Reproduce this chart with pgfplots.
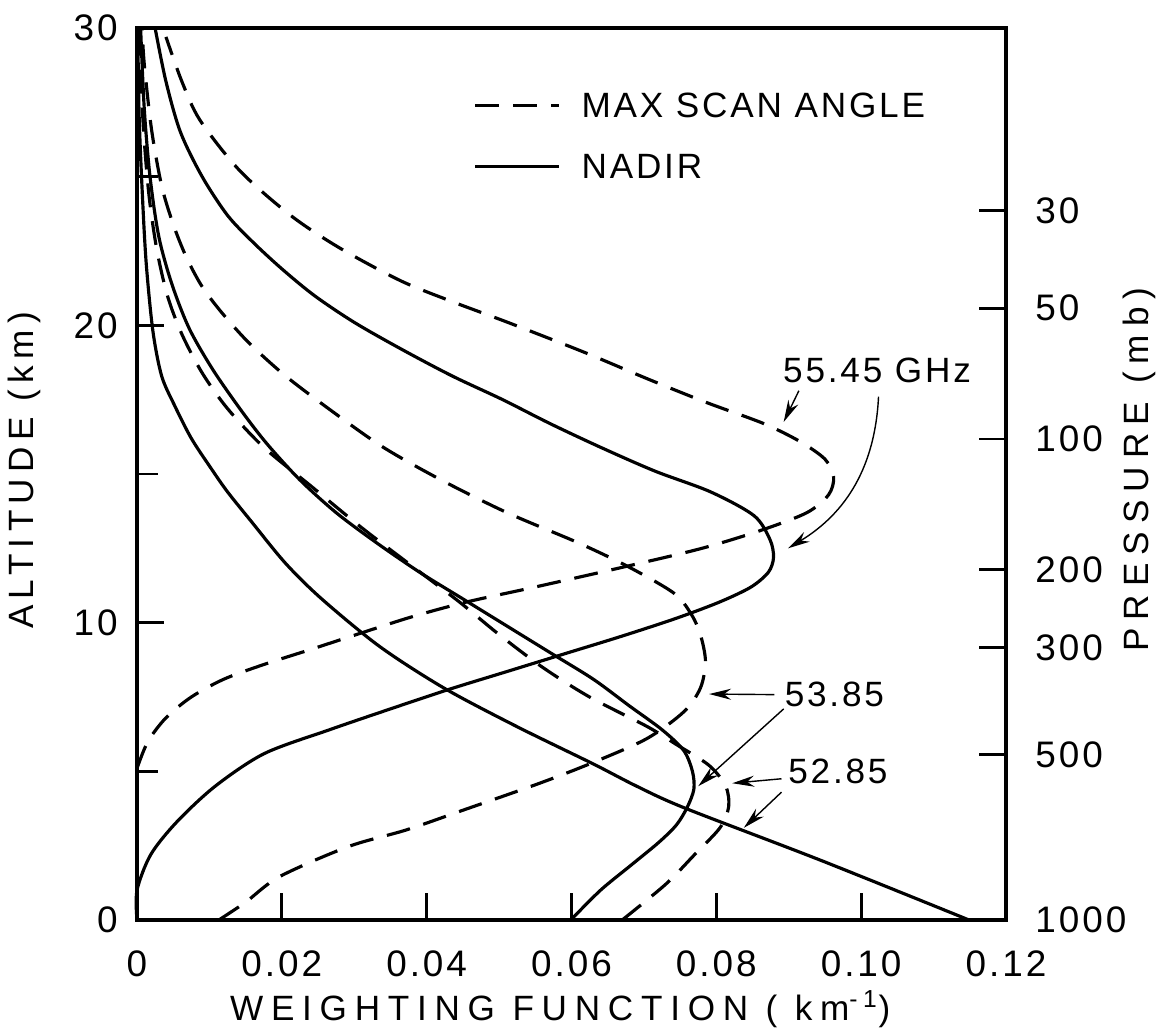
\documentclass[border=0pt]{standalone}
\usepackage{fontspec}
\setmainfont{Liberation Sans}[LetterSpace=8]
\usepackage{pgfplots}
\pgfplotsset{compat=1.18}
\usetikzlibrary{arrows.meta}

% weighting functions: x = km^-1, y = altitude (km)
\pgfplotstableread{
x y
0 0
0 1.0
0.0019 2.2
0.0055 3.3
0.0108 4.5
0.0176 5.6
0.0266 6.4
0.0350 7.1
0.0430 7.75
0.0510 8.35
0.0590 8.95
0.0670 9.55
0.0745 10.15
0.0805 10.7
0.0848 11.2
0.0872 11.7
0.0879 12.2
0.0874 12.8
0.0852 13.6
0.0792 14.4
0.0715 15.1
0.0640 15.9
0.0570 16.7
0.0505 17.5
0.0435 18.3
0.0365 19.2
0.0300 20.1
0.0245 21.0
0.0200 21.9
0.0160 22.8
0.0125 23.7
0.0090 25.0
0.0060 26.5
0.0040 28.2
0.0025 30
}\nadirA

\pgfplotstableread{
x y
0 5.1
0.0015 6.0
0.0040 6.8
0.0075 7.5
0.0120 8.1
0.0176 8.6
0.0240 9.1
0.0303 9.6
0.0380 10.2
0.0456 10.7
0.0550 11.2
0.0677 11.9
0.0780 12.5
0.0861 13.1
0.0925 13.7
0.0955 14.3
0.0962 14.9
0.0950 15.5
0.0915 16.1
0.0865 16.7
0.0787 17.4
0.0705 18.2
0.0617 19.1
0.0512 20.1
0.0435 20.8
0.0364 21.5
0.0280 22.6
0.0212 23.7
0.0142 25.2
0.0087 26.9
0.0062 28.2
0.0040 29.7
}\maxA

\pgfplotstableread{
x y
0.0599 0
0.0640 1.0
0.0680 1.8
0.0720 2.6
0.0745 3.2
0.0760 3.8
0.0769 4.4
0.0767 5.0
0.0755 5.7
0.0725 6.4
0.0680 7.2
0.0630 8.1
0.0570 9.0
0.0510 9.9
0.0450 10.8
0.0390 11.7
0.0330 12.7
0.0275 13.7
0.0225 14.8
0.0180 16.0
0.0145 17.1
0.0105 18.5
0.0072 19.9
0.0048 21.4
0.0030 23.0
0.0018 25.0
0.0010 27.3
0.0005 30
}\nadirB

\pgfplotstableread{
x y
0.0113 0
0.0150 0.6
0.0197 1.46
0.0292 2.47
0.0372 3.03
0.0451 3.7
0.0556 4.6
0.0630 5.3
0.0704 6.1
0.0755 7.0
0.0778 7.8
0.0785 8.7
0.0778 9.6
0.0765 10.3
0.0741 11.0
0.0677 11.9
0.0608 12.7
0.0511 13.7
0.0420 14.8
0.0340 15.9
0.0270 17.1
0.0205 18.3
0.0155 19.4
0.0118 20.4
0.0090 21.3
0.0068 22.3
0.0050 23.4
0.0034 24.7
0.0020 26.6
0.0010 28.8
0.0007 30
}\maxB

\pgfplotstableread{
x y
0.1149 0
0.0945 2.0
0.0757 3.76
0.0690 4.5
0.0630 5.25
0.0525 6.5
0.0424 7.8
0.0335 9.2
0.0255 10.8
0.0205 12.0
0.0158 13.4
0.0125 14.4
0.0102 15.2
0.0075 16.2
0.0052 17.3
0.0034 18.3
0.0022 19.8
0.0013 22.0
0.0008 24.1
0.0003 27
0.0001 30
}\nadirC

\pgfplotstableread{
x y
0.0670 0
0.0730 1.2
0.0770 2.2
0.0805 3.1
0.0817 3.8
0.0813 4.5
0.0790 5.2
0.0745 5.9
0.0705 6.5
0.0625 7.5
0.0560 8.5
0.0500 9.6
0.0445 10.7
0.0380 11.9
0.0310 13.2
0.0240 14.6
0.0175 15.9
0.0125 17.2
0.0090 18.4
0.0062 19.7
0.0042 21.0
0.0027 22.6
0.0016 24.5
0.0008 27.0
0.0004 30
}\maxC

\begin{document}
\begin{tikzpicture}
\useasboundingbox (-13.7mm,-11.2mm) rectangle (102.5mm,92mm);
\begin{axis}[
  at={(0,0)}, anchor=south west,
  scale only axis, width=86.9mm, height=89.2mm,
  xmin=0, xmax=0.12, ymin=0, ymax=30,
  axis line style={line width=0.9pt},
  tick align=inside, xtick pos=bottom, ytick pos=left,
  major tick length=2.7mm, minor tick length=2.1mm,
  tick style={line width=0.8pt, black},
  xtick={0,0.02,0.04,0.06,0.08,0.10,0.12},
  xticklabels={0,0.02,0.04,0.06,0.08,0.10,0.12},
  ytick={0,10,20,30}, yticklabels={0,10,20,30},
  minor ytick={5,15,25},
  tick label style={font=\fontsize{10.5}{12}\selectfont},
  xticklabel style={yshift=-1.8mm},
  yticklabel style={xshift=-0.7mm},
  scaled x ticks=false,
  clip=false,
]
\tikzset{nad/.style={line width=0.9pt, black, no markers, smooth, tension=0.5},
         msa/.style={nad, dash pattern=on 2.4mm off 1.4mm}}
\addplot[nad] table {\nadirA};
\addplot[msa] table {\maxA};
\addplot[nad] table {\nadirB};
\addplot[msa] table {\maxB};
\addplot[nad] table {\nadirC};
\addplot[msa] table {\maxC};

% legend
\draw[line width=0.9pt, dash pattern=on 2.4mm off 1.4mm] (axis cs:0.0467,27.4) -- (axis cs:0.0583,27.4);
\node[anchor=west, font=\fontsize{10}{12}\selectfont, inner sep=0] at (axis cs:0.0613,27.4) {MAX SCAN ANGLE};
\draw[line width=0.9pt] (axis cs:0.0467,25.35) -- (axis cs:0.0583,25.35);
\node[anchor=west, font=\fontsize{10}{12}\selectfont, inner sep=0] at (axis cs:0.0613,25.35) {NADIR};

% channel labels and arrows
\tikzset{lbl/.style={font=\fontsize{10}{12}\selectfont, inner sep=0},
         arr/.style={line width=0.4pt, -{Stealth[length=2.2mm,width=1.1mm]}}}
\node[lbl] at (axis cs:0.1022,18.5) {55.45 GHz};
\draw[arr] (axis cs:0.0914,17.8) -- (axis cs:0.0893,16.75);
\draw[arr] (axis cs:0.1024,17.6) to[bend left=28] (axis cs:0.0899,12.5);
\node[lbl] at (axis cs:0.0963,7.6) {53.85};
\draw[arr] (axis cs:0.0880,7.58) -- (axis cs:0.0790,7.6);
\draw[arr] (axis cs:0.0893,7.1) -- (axis cs:0.0775,4.5);
\node[lbl] at (axis cs:0.0968,5.0) {52.85};
\draw[arr] (axis cs:0.0890,4.75) -- (axis cs:0.0822,4.6);
\draw[arr] (axis cs:0.0890,4.3) -- (axis cs:0.0838,3.1);

% axis titles
\node[font=\fontsize{10}{12}\selectfont\addfontfeatures{LetterSpace=22}] at (axis description cs:0.487,-0.1) {WEIGHTING FUNCTION ( km\textsuperscript{-1})};
\node[font=\fontsize{10}{12}\selectfont\addfontfeatures{LetterSpace=18}, rotate=90] at (axis description cs:-0.129,0.504) {ALTITUDE (km)};
\node[font=\fontsize{10}{12}\selectfont\addfontfeatures{LetterSpace=23}, rotate=90] at (axis description cs:1.154,0.505) {PRESSURE (mb)};
\end{axis}

\begin{axis}[
  at={(0,0)}, anchor=south west,
  scale only axis, width=86.9mm, height=89.2mm,
  xmin=0, xmax=0.12, ymin=0, ymax=30,
  axis x line=none, axis y line*=right,
  axis line style={line width=0.9pt},
  tick align=inside,
  major tick length=2.7mm,
  tick style={line width=0.8pt, black},
  ytick={0,5.57,9.16,11.78,16.18,20.58,23.85},
  yticklabels={1000,500,300,200,100,50,30},
  tick label style={font=\fontsize{10.5}{12}\selectfont},
  yticklabel style={xshift=1.7mm},
]
\end{axis}
\end{tikzpicture}
\end{document}
